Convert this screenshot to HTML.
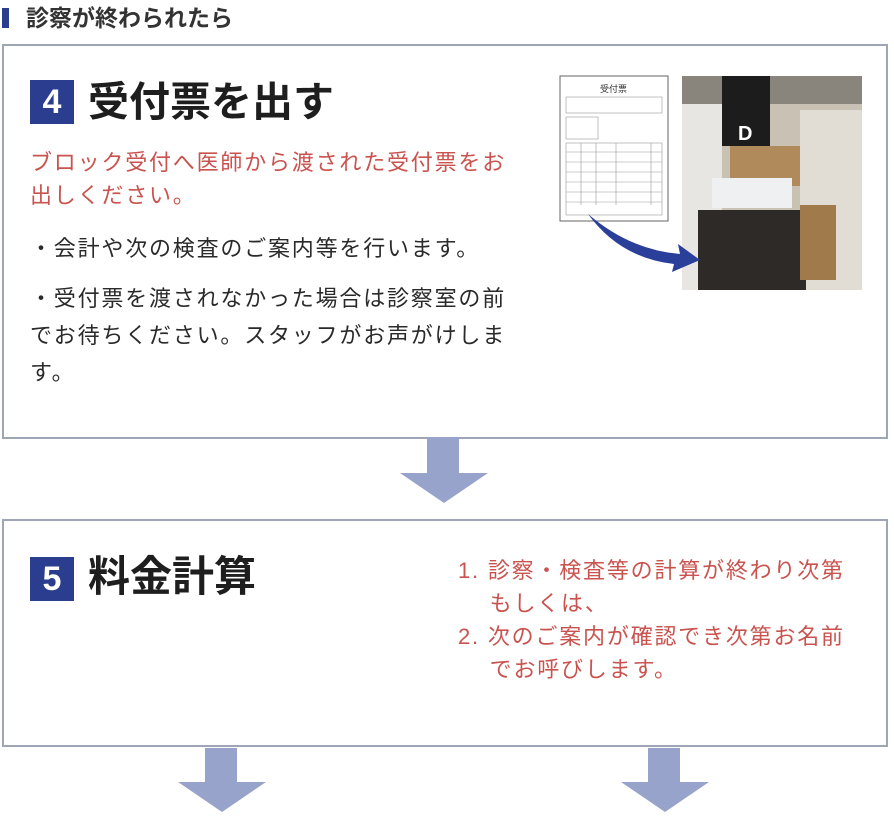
<!DOCTYPE html>
<html><head><meta charset="utf-8"><style>
*{margin:0;padding:0;box-sizing:border-box}
body{width:894px;height:819px;background:#fff;position:relative;overflow:hidden;font-family:"Liberation Sans","Noto Sans CJK JP",sans-serif;color:#222}
.a{position:absolute;white-space:nowrap}
.box{position:absolute;border:2px solid #9ea6b6;background:#fff}
.badge{position:absolute;width:44px;height:44px;background:#2b3d8f;color:#fff;font-weight:bold;font-size:34px;text-align:center;line-height:44px}
.title{font-size:41px;font-weight:bold;color:#1e1e1e;line-height:44px}
.red{color:#c9534f;font-size:22px;letter-spacing:1.8px}
.txt{font-size:22px;letter-spacing:1.8px;color:#2a2a2a}
</style></head><body>
<div class="a" style="left:2px;top:8px;width:7px;height:20px;background:#2b3d8f"></div>
<div class="a" style="left:26px;top:3px;font-size:23px;font-weight:bold;color:#333;line-height:30px">診察が終わられたら</div>

<div class="box" style="left:2px;top:44px;width:886px;height:395px"></div>
<div class="badge" style="left:30px;top:80px">4</div>
<div class="a title" style="left:88px;top:80px">受付票を出す</div>
<div class="a red" style="left:30px;top:146px;line-height:33px">ブロック受付へ医師から渡された受付票をお<br>出しください。</div>
<div class="a txt" style="left:30px;top:232px;line-height:33px">・会計や次の検査のご案内等を行います。</div>
<div class="a txt" style="left:30px;top:280px;line-height:37px">・受付票を渡されなかった場合は診察室の前<br>でお待ちください。スタッフがお声がけしま<br>す。</div>

<svg class="a" style="left:556px;top:72px" width="312" height="222" viewBox="556 72 312 222">
<rect x="560" y="76" width="108" height="145" fill="#fff" stroke="#666" stroke-width="1"/>
<text x="600" y="92" font-size="9" font-family="Noto Sans CJK JP" fill="#333">受付票</text>
<g stroke="#999" stroke-width="0.6" fill="none">
<rect x="566" y="97" width="96" height="16"/><rect x="566" y="117" width="32" height="22"/>
<rect x="566" y="143" width="96" height="72"/>
<line x1="566" y1="152" x2="662" y2="152"/><line x1="566" y1="162" x2="662" y2="162"/><line x1="566" y1="172" x2="662" y2="172"/><line x1="566" y1="182" x2="662" y2="182"/><line x1="566" y1="192" x2="662" y2="192"/><line x1="566" y1="202" x2="662" y2="202"/>
<line x1="581" y1="143" x2="581" y2="205"/><line x1="596" y1="143" x2="596" y2="205"/><line x1="616" y1="143" x2="616" y2="205"/><line x1="651" y1="143" x2="651" y2="205"/>
</g>
<rect x="682" y="76" width="180" height="214" fill="#c9c2b4"/>
<rect x="682" y="76" width="180" height="28" fill="#8a857c"/>
<rect x="682" y="104" width="40" height="186" fill="#e8e6e2"/>
<rect x="800" y="110" width="62" height="180" fill="#e2ddd4"/>
<rect x="722" y="76" width="48" height="70" fill="#1c1c1c"/>
<text x="738" y="140" font-size="20" font-weight="bold" fill="#fff" font-family="Liberation Sans">D</text>
<rect x="730" y="146" width="70" height="40" fill="#b08a5a"/>
<rect x="712" y="178" width="80" height="30" fill="#eef0f2"/>
<rect x="698" y="210" width="108" height="80" fill="#2e2a27"/>
<rect x="800" y="205" width="36" height="75" fill="#a07a4a"/>
<path d="M588 214 Q630 250 680 254 L678 244 L700 260 L672 272 L674 264 Q620 258 588 214Z" fill="#2a3f99"/>
</svg>

<svg class="a" style="left:398px;top:437px" width="94" height="68"><path d="M29 0H61V36H90L46 66L2 36H29Z" fill="#97a3cb"/></svg>

<div class="box" style="left:2px;top:519px;width:886px;height:228px"></div>
<div class="badge" style="left:30px;top:557px">5</div>
<div class="a title" style="left:88px;top:555px;font-size:42px">料金計算</div>
<div class="a red" style="left:458px;top:554px;line-height:33px">1. 診察・検査等の計算が終わり次第<br>&nbsp;&nbsp;&nbsp;&nbsp;もしくは、<br>2. 次のご案内が確認でき次第お名前<br>&nbsp;&nbsp;&nbsp;&nbsp;でお呼びします。</div>

<svg class="a" style="left:176px;top:748px" width="94" height="68"><path d="M29 0H61V34H90L46 64L2 34H29Z" fill="#97a3cb"/></svg>
<svg class="a" style="left:619px;top:748px" width="94" height="68"><path d="M29 0H61V34H90L46 64L2 34H29Z" fill="#97a3cb"/></svg>
</body></html>
